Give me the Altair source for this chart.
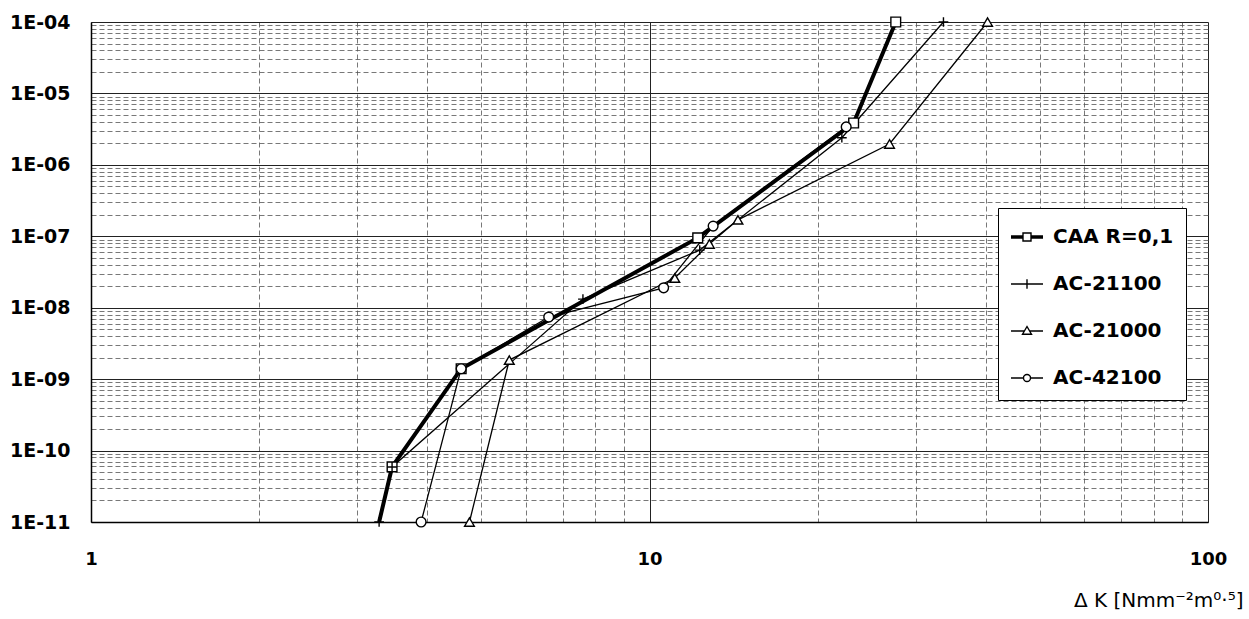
import altair as alt
import pandas as pd

series_names = ["CAA R=0,1", "AC-21100", "AC-21000", "AC-42100"]

caa_dk = [3.28, 3.46, 4.60, 12.2, 23.2, 27.6]
caa_rate = [1e-11, 5.9e-11, 1.4e-9, 9.5e-8, 3.85e-6, 1e-4]

ac21100_dk = [3.28, 3.46, 7.6, 12.3, 22.1, 33.6]
ac21100_rate = [1e-11, 5.9e-11, 1.32e-8, 6.4e-8, 2.4e-6, 1e-4]

ac21000_dk = [4.76, 5.61, 11.1, 12.8, 14.4, 26.9, 40.3]
ac21000_rate = [1e-11, 1.85e-9, 2.6e-8, 7.8e-8, 1.7e-7, 1.96e-6, 1e-4]

ac42100_dk = [3.90, 4.60, 6.6, 10.6, 13.0, 22.5]
ac42100_rate = [1e-11, 1.4e-9, 7.4e-9, 1.9e-8, 1.39e-7, 3.4e-6]

x_ticks = [m * 10 ** e for e in range(0, 2) for m in range(1, 10)] + [100]
y_ticks = [m * 10.0 ** e for e in range(-11, -4) for m in range(1, 10)] + [1e-4]

rows = []
for name, xs, ys in zip(series_names,
                        [caa_dk, ac21100_dk, ac21000_dk, ac42100_dk],
                        [caa_rate, ac21100_rate, ac21000_rate, ac42100_rate]):
    for i, (xv, yv) in enumerate(zip(xs, ys)):
        rows.append({"series": name, "dk": xv, "rate": yv, "idx": i})
df = pd.DataFrame(rows)

W, H = 1117, 500
plus_path = "M-1,0H1M0,-1V1"
marker_shapes = ["square", plus_path, "triangle-up", "circle"]
legend_shapes = [
    "M-1,-0.07H-0.25M-1,0H-0.25M-1,0.07H-0.25M0.25,-0.07H1M0.25,0H1M0.25,0.07H1"
    "M-0.25,-0.25H0.25V0.25H-0.25Z",
    "M-1,0H1M0,-0.3V0.3",
    "M-1,0H-0.16M0.16,0H1M0,-0.28L0.28,0.2H-0.28Z",
    "M-1,0H-0.22M0.22,0H1M-0.22,0A0.22,0.22 0 1,0 0.22,0A0.22,0.22 0 1,0 -0.22,0",
]

is_dec = "abs(log(datum.value)/LN10 - round(log(datum.value)/LN10)) < 0.000001"
grid_dash = {"condition": {"test": is_dec, "value": []}, "value": [5, 3]}
grid_color = {"condition": {"test": is_dec, "value": "#222222"}, "value": "#555555"}
grid_width = {"condition": {"test": is_dec, "value": 1}, "value": 0.8}

x_enc = alt.X(
    "dk:Q",
    scale=alt.Scale(type="log", domain=[1, 100], nice=False),
    axis=alt.Axis(
        values=x_ticks, format="d",
        labelExpr=f"({is_dec}) ? datum.label : ''",
        labelOverlap=False, labelFlush=False, labelFont="DejaVu Sans", labelFontSize=18,
        labelFontWeight="bold", labelColor="black", labelPadding=28,
        ticks=False, domainColor="black", domainWidth=1.5,
        gridDash=grid_dash, gridColor=grid_color, gridWidth=grid_width,
        title="Δ K [Nmm⁻²m⁰·⁵]", titleFont="DejaVu Sans", titleFontSize=20,
        titleFontWeight="normal", titleColor="black", titleAlign="right",
        titleAnchor="end", titleBaseline="alphabetic", titleX=1152, titleY=84,
    ),
)

y_enc = alt.Y(
    "rate:Q",
    scale=alt.Scale(type="log", domain=[1e-11, 1e-4], nice=False),
    axis=alt.Axis(
        values=y_ticks,
        labelExpr=(f"({is_dec}) ? ('1E-' + (round(-log(datum.value)/LN10) < 10 ? '0' : '')"
                   " + round(-log(datum.value)/LN10)) : ''"),
        labelOverlap=False, labelFlush=False, labelFont="DejaVu Sans", labelFontSize=19,
        labelFontWeight="bold", labelColor="black", labelPadding=21,
        ticks=False, domainColor="black", domainWidth=1.5,
        gridDash=grid_dash, gridColor=grid_color, gridWidth=grid_width,
        title=None,
    ),
)

base = alt.Chart(df)

lines = base.mark_line(color="black").encode(
    x=x_enc, y=y_enc, detail="series:N", order="idx:Q",
    strokeWidth=alt.StrokeWidth(
        "series:N",
        scale=alt.Scale(type="ordinal", domain=series_names, range=[4, 1.3, 1.3, 1.3]),
        legend=None,
    ),
)

points = base.transform_filter(
    "!(datum.series == 'CAA R=0,1' && datum.idx == 0)"
).mark_point(filled=True, fill="white", stroke="black", strokeWidth=1.4, size=95, opacity=1).encode(
    x=x_enc, y=y_enc,
    shape=alt.Shape("series:N", scale=alt.Scale(domain=series_names, range=marker_shapes), legend=None),
)

legend_layer = base.transform_filter("false").mark_point(
    filled=False, opacity=1, stroke="black", fill="white", strokeWidth=1.4
).encode(
    x=x_enc, y=y_enc,
    shape=alt.Shape(
        "series:N",
        scale=alt.Scale(domain=series_names, range=legend_shapes),
        legend=alt.Legend(
            title=None, orient="none", legendX=907, legendY=186,
            symbolSize=1024, symbolStrokeWidth=1.4,
            labelFont="DejaVu Sans", labelFontSize=20, labelFontWeight="bold",
            labelColor="black", labelOffset=9, rowPadding=20, padding=12,
            fillColor="white", strokeColor="black",
        ),
    ),
)

chart = (
    alt.layer(lines, points, legend_layer)
    .resolve_scale(shape="independent")
    .properties(
        width=W, height=H,
        autosize=alt.AutoSizeParams(type="none"),
        padding={"left": 91, "top": 22, "right": 41, "bottom": 97},
        background="white",
    )
    .configure_view(stroke=None)
)

chart.save("out.html", embed_options={"renderer": "svg", "actions": False})
